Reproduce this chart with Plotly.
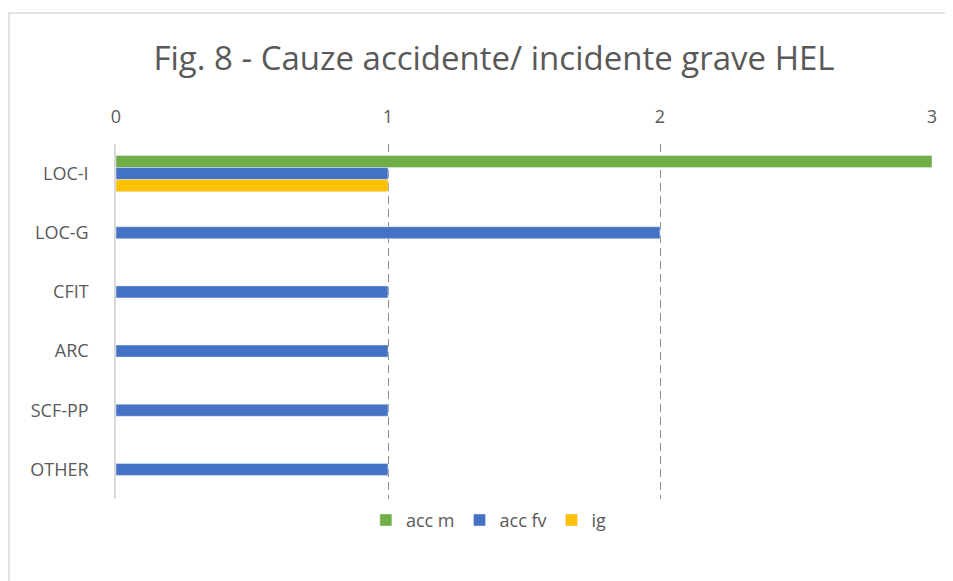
import plotly.graph_objects as go

# Date
categorii = ["LOC-I", "LOC-G", "CFIT", "ARC", "SCF-PP", "OTHER"]
acc_m = [3, None, None, None, None, None]
acc_fv = [1, 2, 1, 1, 1, 1]
ig = [1, None, None, None, None, None]

W, H = 953, 581
L, R, T, B = 108, 29, 136, 90

fig = go.Figure()
fig.add_trace(go.Bar(y=categorii, x=acc_m, name="acc m", orientation="h",
                     marker=dict(color="#70AD47")))
fig.add_trace(go.Bar(y=categorii, x=acc_fv, name="acc fv", orientation="h",
                     marker=dict(color="#4472C4")))
fig.add_trace(go.Bar(y=categorii, x=ig, name="ig", orientation="h",
                     marker=dict(color="#FFC000")))

pw = W - L - R
ph = H - T - B

# chenar exterior al graficului
fig.add_shape(type="rect", xref="paper", yref="paper",
              x0=(1 - L) / pw, x1=(W + 20 - L) / pw,
              y0=(H - B - (H + 20)) / ph, y1=(H - B - 5) / ph,
              line=dict(color="#D9D9D9", width=1.5), layer="below")

fig.update_layout(
    width=W, height=H,
    margin=dict(l=L, r=R, t=T, b=B),
    paper_bgcolor="white", plot_bgcolor="white",
    font=dict(family="Open Sans", color="#595959", size=18),
    title=dict(text="Fig. 8 - Cauze accidente/ incidente grave HEL",
               x=0.51, xanchor="center", y=0.914, yanchor="middle",
               font=dict(size=33, color="#595959")),
    barmode="group", bargap=0.39, bargroupgap=0,
    showlegend=True,
    legend=dict(orientation="h", x=0.457, xanchor="center", y=-0.06, yanchor="middle",
                font=dict(size=18, color="#595959"), itemwidth=30, tracegroupgap=0),
    xaxis=dict(side="top", range=[0, 3.0], tickvals=[0, 1, 2, 3],
               showgrid=True, gridcolor="#8C8C8C", griddash="8px,5px", gridwidth=1.2,
               zeroline=False, showline=False, ticks="", ticklabelstandoff=16),
    yaxis=dict(autorange="reversed", showgrid=False, showline=True,
               linecolor="#D9D9D9", linewidth=1.5, ticks="", ticklabelstandoff=22),
)

fig.write_html("out.html")
